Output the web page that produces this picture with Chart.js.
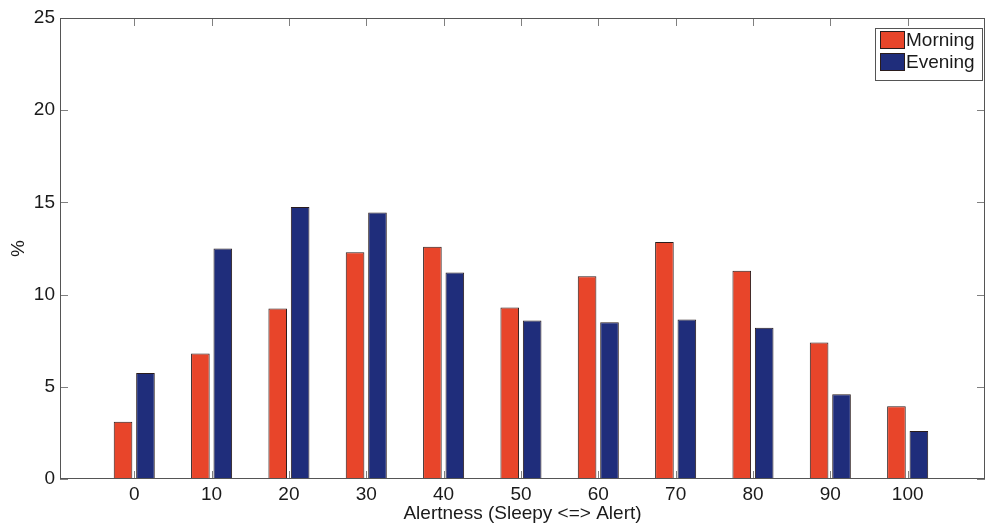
<!DOCTYPE html>
<html>
<head>
<meta charset="utf-8">
<title>Alertness</title>
<script src="https://cdn.jsdelivr.net/npm/chart.js@4/dist/chart.umd.min.js"></script>
<style>
  html, body { margin: 0; padding: 0; background: #fff; }
  #wrap { width: 990px; height: 529px; }
</style>
</head>
<body>
<div id="wrap"><canvas id="alertChart" width="990" height="529"></canvas></div>
<script>
// data
const categories = [0, 10, 20, 30, 40, 50, 60, 70, 80, 90, 100];
const morningValues = [3.1, 6.8, 9.25, 12.3, 12.6, 9.3, 11.0, 12.85, 11.3, 7.4, 3.95];
const eveningValues = [5.75, 12.5, 14.75, 14.45, 11.2, 8.6, 8.5, 8.65, 8.2, 4.6, 2.6];
const seriesLabels = ['Morning', 'Evening'];
const yTicks = [0, 5, 10, 15, 20, 25];
const xTitle = 'Alertness (Sleepy <=> Alert)';
const yTitle = '%';

const FONT = '"Liberation Sans", Arial, sans-serif';
const FONT_SIZE = 19;
const COLORS = ['#e8452a', '#1f2d7b'];

// MATLAB-style box: frame, inward ticks on all sides, legend in the top right corner
const boxPlugin = {
    id: 'matlabBox',
    afterDatasetsDraw(chart) {
        const { ctx, chartArea: a, scales: { x, y } } = chart;
        ctx.save();
        ctx.lineWidth = 1;
        ctx.strokeStyle = '#808080';
        ctx.beginPath();
        yTicks.forEach(v => {
            const py = Math.round(y.getPixelForValue(v)) + 0.5;
            ctx.moveTo(a.left, py); ctx.lineTo(a.left + 8, py);
            ctx.moveTo(a.right, py); ctx.lineTo(a.right - 8, py);
        });
        categories.forEach(c => {
            const px = Math.round(x.getPixelForValue(c)) + 0.5;
            ctx.moveTo(px, a.bottom); ctx.lineTo(px, a.bottom - 8);
            ctx.moveTo(px, a.top); ctx.lineTo(px, a.top + 8);
        });
        ctx.stroke();

        ctx.strokeStyle = '#555';
        ctx.strokeRect(Math.round(a.left) + 0.5, Math.round(a.top) + 0.5,
            Math.round(a.right - a.left) - 1, Math.round(a.bottom - a.top) - 1);

        // legend
        const w = 107, h = 52;
        const lx = Math.round(a.right - 3 - w), ly = Math.round(a.top + 10);
        ctx.fillStyle = '#fff';
        ctx.fillRect(lx, ly, w, h);
        ctx.strokeStyle = '#555';
        ctx.strokeRect(lx + 0.5, ly + 0.5, w, h);
        ctx.font = FONT_SIZE + 'px ' + FONT;
        ctx.textBaseline = 'middle';
        chart.data.datasets.forEach((ds, i) => {
            const sy = ly + 3 + i * 22;
            ctx.fillStyle = ds.backgroundColor;
            ctx.fillRect(lx + 5, sy, 25, 18);
            ctx.strokeStyle = '#2a1c1c';
            ctx.strokeRect(lx + 5.5, sy + 0.5, 24, 17);
            ctx.fillStyle = '#1a1a1a';
            ctx.fillText(ds.label, lx + 31, sy + 10);
        });
        ctx.restore();
    }
};

const makeSeries = values => categories.map((c, i) => ({ x: c, y: values[i] }));
const tickFont = { family: FONT, size: FONT_SIZE };

new Chart(document.getElementById('alertChart'), {
    type: 'bar',
    data: {
        datasets: [
            { label: seriesLabels[0], data: makeSeries(morningValues), backgroundColor: COLORS[0] },
            { label: seriesLabels[1], data: makeSeries(eveningValues), backgroundColor: COLORS[1] }
        ].map(d => Object.assign(d, {
            borderColor: '#2a1c1c', borderWidth: 1, borderSkipped: false,
            categoryPercentage: 0.58, barPercentage: 0.83
        }))
    },
    options: {
        responsive: false,
        animation: false,
        layout: { padding: { top: 18, right: 5, left: 0, bottom: 0 } },
        plugins: { legend: { display: false }, tooltip: { enabled: false } },
        scales: {
            x: {
                type: 'linear',
                min: -9.6,
                max: 110,
                offset: false,
                afterBuildTicks: s => { s.ticks = categories.map(v => ({ value: v })); },
                afterFit: s => { s.height = 50; },
                grid: { display: false, drawTicks: false, offset: false },
                border: { display: false },
                ticks: { padding: 4, color: '#1a1a1a', font: tickFont, maxRotation: 0 },
                title: { display: true, text: xTitle, color: '#1a1a1a', font: tickFont, padding: { top: 0, bottom: 4 } }
            },
            y: {
                min: 0,
                max: 25,
                afterBuildTicks: s => { s.ticks = yTicks.map(v => ({ value: v })); },
                afterFit: s => { s.width = 60; },
                grid: { display: false, drawTicks: false },
                border: { display: false },
                ticks: { padding: 5, color: '#1a1a1a', font: tickFont },
                title: { display: true, text: yTitle, color: '#1a1a1a', font: tickFont, padding: { top: 7, bottom: 0 } }
            }
        }
    },
    plugins: [boxPlugin]
});
</script>
</body>
</html>
